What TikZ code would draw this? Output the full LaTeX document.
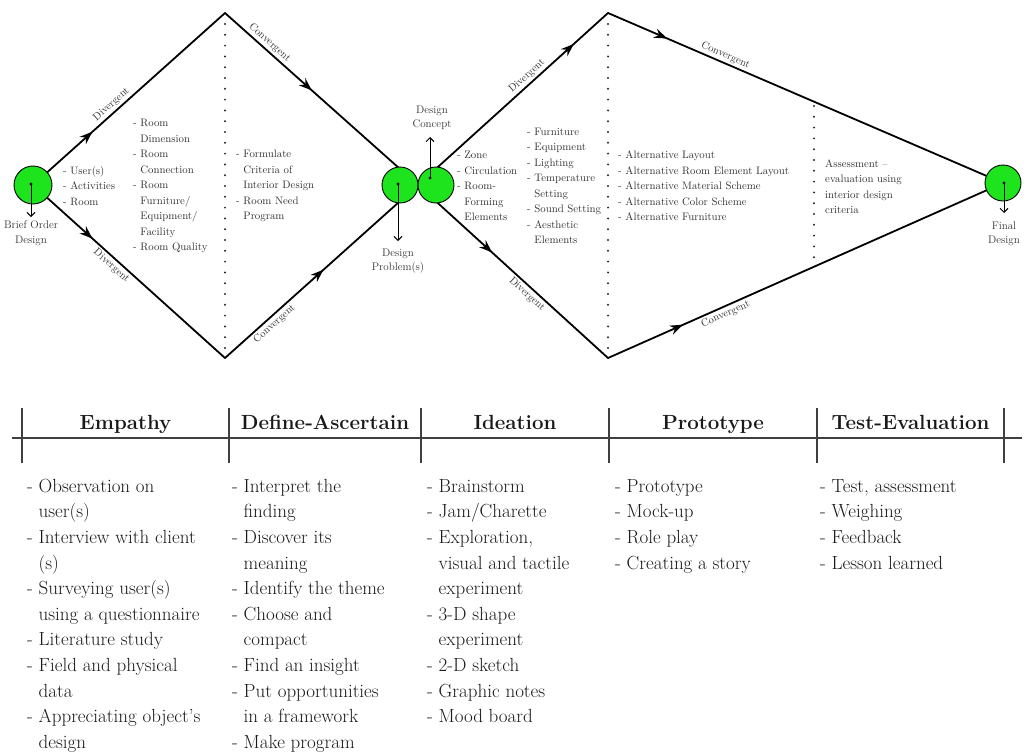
\documentclass[tikz,border=0pt]{standalone}
\usetikzlibrary{arrows.meta,decorations.markings}
\definecolor{cgreen}{RGB}{30,228,30}
\newcommand{\contind}{\phantom{- }}
\begin{document}
\begin{tikzpicture}[x=1pt,y=-1pt,
  mainline/.style={line width=1.8pt,line cap=round},
  midarrow/.style={postaction={decorate},decoration={markings,mark=at position #1 with {\arrow{Stealth[length=13pt,width=9.5pt]}}}},
  lab/.style={font=\fontsize{10.5}{12}\selectfont,text=black!80,sloped,inner sep=2pt},
  smalllist/.style={font=\fontsize{10.8}{15.5}\selectfont,align=left,text=black!80,inner sep=0pt,anchor=west},
  circcaption/.style={font=\fontsize{11}{14.5}\selectfont,align=center,text=black!80,inner sep=0pt},
  greencirc/.style={circle,draw=black,line width=0.9pt,fill=cgreen,minimum size=#1,inner sep=0pt},
  dotline/.style={line width=2.2pt,line cap=round,dash pattern=on 0pt off 10.8pt,black!85},
  pointer/.style={line width=0.9pt,-{Straight Barb[length=4pt,width=8pt]}},
  colhead/.style={font=\fontsize{20.5}{24}\selectfont\bfseries,anchor=base,inner sep=0pt,text=black!90},
  biglist/.style={font=\fontsize{19}{25.6}\selectfont,align=left,anchor=north west,inner sep=0pt,text=black!90},
  tablerule/.style={line width=1.1pt,black!75}
]
\useasboundingbox (0,0) rectangle (1028,753);

% key points
\coordinate (p1) at (33,185);
\coordinate (A1) at (225,13);
\coordinate (B1) at (225,358);
\coordinate (X) at (418,185);
\coordinate (A2) at (608,13);
\coordinate (B2) at (608,358);
\coordinate (p4) at (1003,183);

% main lines
\draw[mainline,midarrow=0.31] (p1) -- node[lab,above,pos=0.435]{Divergent} (A1);
\draw[mainline,midarrow=0.31] (p1) -- node[lab,below,pos=0.435]{Divergent} (B1);
\draw[mainline,midarrow=0.45] (A1) -- node[lab,above,pos=0.205]{Convergent} (X);
\draw[mainline,midarrow=0.51] (B1) -- node[lab,below,pos=0.23]{Convergent} (X);
\draw[mainline,midarrow=0.82] (X) -- node[lab,above,pos=0.60]{Divergent} (A2);
\draw[mainline,midarrow=0.39] (X) -- node[lab,below,pos=0.60]{Divergent} (B2);
\draw[mainline,midarrow=0.15] (A2) -- node[lab,above,pos=0.29]{Convergent} (p4);
\draw[mainline,midarrow=0.19] (B2) -- node[lab,below,pos=0.29]{Convergent} (p4);

% dotted separators
\coordinate (d1t) at (225,24);  \coordinate (d1b) at (225,350);
\coordinate (d2t) at (608,24);  \coordinate (d2b) at (608,350);
\coordinate (d3t) at (814,106); \coordinate (d3b) at (814,264);
\draw[dotline] (d1t) -- (d1b);
\draw[dotline] (d2t) -- (d2b);
\draw[dotline] (d3t) -- (d3b);

% circles
\node[greencirc=38pt] (c1) at (p1) {};
\node[greencirc=36pt] (c2) at (400,185) {};
\node[greencirc=36pt] (c3) at (436,185) {};
\node[greencirc=36pt] (c4) at (p4) {};

% pointers from circles
\coordinate (c1d) at (31,184);   \coordinate (c1e) at (31,217);
\coordinate (c2d) at (398,184);  \coordinate (c2e) at (398,241);
\coordinate (c3d) at (430,178);  \coordinate (c3e) at (430,137);
\coordinate (c4d) at (1004,183); \coordinate (c4e) at (1004,213);
\fill (c1d) circle (1.7pt);
\fill (c2d) circle (1.7pt);
\fill (c3d) circle (1.7pt);
\fill (c4d) circle (1.7pt);
\draw[pointer] (c1d) -- (c1e);
\draw[pointer] (c2d) -- (c2e);
\draw[pointer] (c3d) -- (c3e);
\draw[pointer] (c4d) -- (c4e);

\node[circcaption] (t1) at (31,233) {Brief Order\\Design};
\node[circcaption] (t2) at (398,261) {Design\\Problem(s)};
\node[circcaption] (t3) at (432,118) {Design\\Concept};
\node[circcaption] (t4) at (1004,234) {Final\\Design};

% small lists
\node[smalllist] (L0) at (63,186) {- User(s)\\- Activities\\- Room};
\node[smalllist] (L1) at (133,186) {- Room\\\contind Dimension\\- Room\\\contind Connection\\- Room\\\contind Furniture/\\\contind Equipment/\\\contind Facility\\- Room Quality};
\node[smalllist] (L2) at (236,186) {- Formulate\\\contind Criteria of\\\contind Interior Design\\- Room Need\\\contind Program};
\node[smalllist] (L3) at (457,186) {- Zone\\- Circulation\\- Room-\\\contind Forming\\\contind Elements};
\node[smalllist] (L4) at (527,186) {- Furniture\\- Equipment\\- Lighting\\- Temperature\\\contind Setting\\- Sound Setting\\- Aesthetic\\\contind Elements};
\node[smalllist] (L5) at (618,186) {- Alternative Layout\\- Alternative Room Element Layout\\- Alternative Material Scheme\\- Alternative Color Scheme\\- Alternative Furniture};
\node[smalllist] (L6) at (825,186.5) {Assessment --\\evaluation using\\interior design\\criteria};

% table
\coordinate (hl) at (12,438); \coordinate (hr) at (1022,438);
\draw[tablerule] (hl) -- (hr);
\foreach \x [count=\i] in {22,229,421,609,817,1004}{
  \coordinate (tk\i a) at (\x,408);
  \coordinate (tk\i b) at (\x,463);
  \draw[tablerule] (tk\i a) -- (tk\i b);
}
\node[colhead] (h1) at (125.5,429) {Empathy};
\node[colhead] (h2) at (325,429) {Define-Ascertain};
\node[colhead] (h3) at (515,429) {Ideation};
\node[colhead] (h4) at (713,429) {Prototype};
\node[colhead] (h5) at (910.5,429) {Test-Evaluation};

\node[biglist] (b1) at (27,477) {\rule{0pt}{15pt}- Observation on\\\contind user(s)\\- Interview with client\\\contind (s)\\- Surveying user(s)\\\contind using a questionnaire\\- Literature study\\- Field and physical\\\contind data\\- Appreciating object's\\\contind design};
\node[biglist] (b2) at (232,477) {\rule{0pt}{15pt}- Interpret the\\\contind finding\\- Discover its\\\contind meaning\\- Identify the theme\\- Choose and\\\contind compact\\- Find an insight\\- Put opportunities\\\contind in a framework\\- Make program};
\node[biglist] (b3) at (427,477) {\rule{0pt}{15pt}- Brainstorm\\- Jam/Charette\\- Exploration,\\\contind visual and tactile\\\contind experiment\\- 3-D shape\\\contind experiment\\- 2-D sketch\\- Graphic notes\\- Mood board};
\node[biglist] (b4) at (615,477) {\rule{0pt}{15pt}- Prototype\\- Mock-up\\- Role play\\- Creating a story};
\node[biglist] (b5) at (820,477) {\rule{0pt}{15pt}- Test, assessment\\- Weighing\\- Feedback\\- Lesson learned};
\end{tikzpicture}
\end{document}
